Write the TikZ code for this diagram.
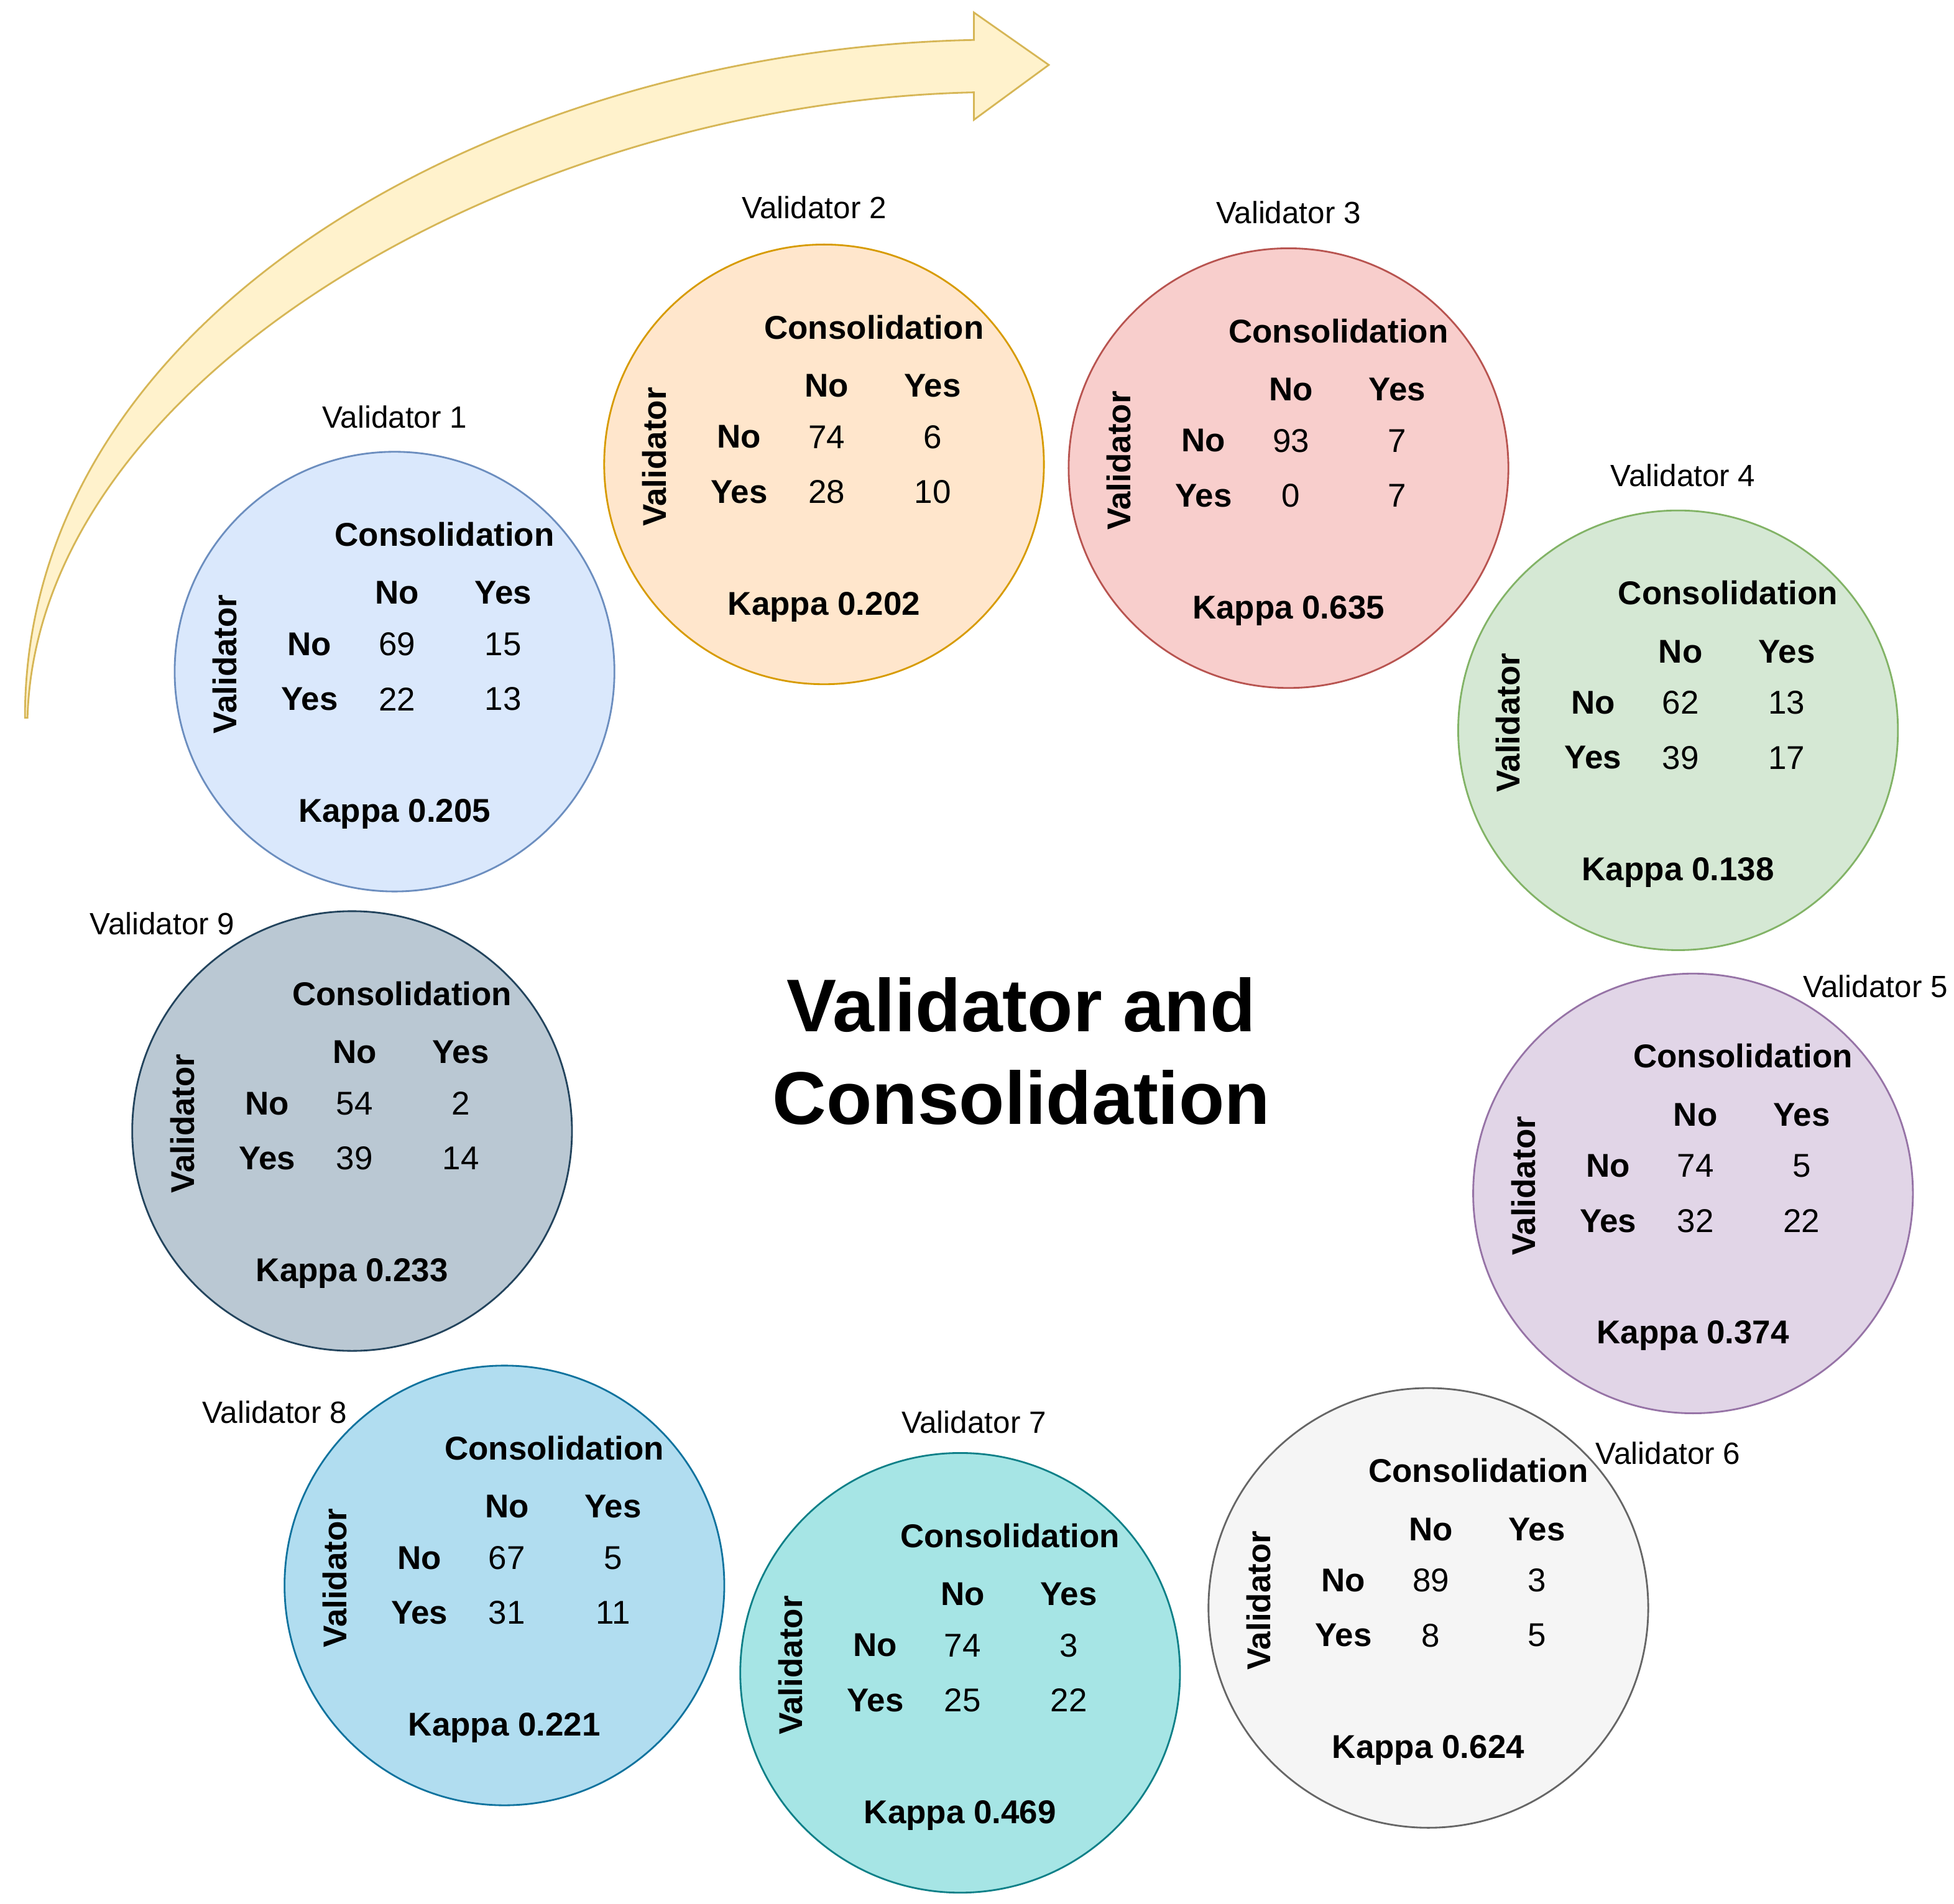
\documentclass[tikz,border=0pt]{standalone}
\usepackage{fontspec}
\setmainfont{Liberation Sans}
\usetikzlibrary{positioning}

\definecolor{f1}{HTML}{DAE8FC}\definecolor{d1}{HTML}{6C8EBF}
\definecolor{f2}{HTML}{FFE6CC}\definecolor{d2}{HTML}{D79B00}
\definecolor{f3}{HTML}{F8CECC}\definecolor{d3}{HTML}{B85450}
\definecolor{f4}{HTML}{D5E8D4}\definecolor{d4}{HTML}{82B366}
\definecolor{f5}{HTML}{E1D5E7}\definecolor{d5}{HTML}{9673A6}
\definecolor{f6}{HTML}{F5F5F5}\definecolor{d6}{HTML}{666666}
\definecolor{f7}{HTML}{A6E5E5}\definecolor{d7}{HTML}{0E8088}
\definecolor{f8}{HTML}{B1DDF0}\definecolor{d8}{HTML}{10739E}
\definecolor{f9}{HTML}{BAC8D3}\definecolor{d9}{HTML}{23445D}
\definecolor{arrowfill}{HTML}{FFF2CC}\definecolor{arrowdraw}{HTML}{D6B656}

\begin{document}
\begin{tikzpicture}[x=0.01cm,y=-0.01cm]
    \tikzset{
        matrixcircle/.style = {circle, minimum size=3.52cm, inner sep=0pt},
        head/.style = {font=\bfseries\fontsize{7.5}{9}\selectfont},
        cell/.style = {font=\fontsize{7.5}{9}\selectfont},
        caption/.style = {font=\fontsize{7}{8}\selectfont},
        title/.style = {font=\bfseries\fontsize{17}{21}\selectfont, align=center}
    }
    \useasboundingbox (0,0) rectangle (1565,1525);

    % big curved arrow
    \draw[arrowdraw, fill=arrowfill] (20,575) .. controls (20,250) and (400,40) .. (780,32)
        -- (780,10) -- (840,52) -- (780,96) -- (780,74)
        .. controls (420,82) and (30,300) .. (22,575) -- cycle;

    \node[title] (title) at (818,842) {Validator and\\Consolidation};

    \foreach \n/\x/\y/\lx/\ly/\a/\b/\c/\d/\k in {
        1/316/538/316/334/69/15/22/13/0.205,
        2/660/372/652/166/74/6/28/10/0.202,
        3/1032/375/1032/170/93/7/0/7/0.635,
        4/1344/585/1348/381/62/13/39/17/0.138,
        5/1356/956/1502/790/74/5/32/22/0.374,
        6/1144/1288/1336/1164/89/3/8/5/0.624,
        7/769/1340/780/1139/74/3/25/22/0.469,
        8/404/1270/220/1131/67/5/31/11/0.221,
        9/282/906/130/740/54/2/39/14/0.233}{
        \node[matrixcircle, draw=d\n, fill=f\n] (v\n) at (\x,\y) {};
        \node[caption] (v\n-lbl) at (\lx,\ly) {Validator \n};
        \begin{scope}[shift={(\x,\y)}]
            \node[head] (v\n-cons) at (40,-110) {Consolidation};
            \node[head] (v\n-cno) at (2,-63) {No};
            \node[head] (v\n-cyes) at (87,-63) {Yes};
            \node[head] (v\n-rno) at (-68,-22) {No};
            \node[head] (v\n-ryes) at (-68,22) {Yes};
            \node[cell] (v\n-a) at (2,-22) {\a};
            \node[cell] (v\n-b) at (87,-22) {\b};
            \node[cell] (v\n-c) at (2,22) {\c};
            \node[cell] (v\n-d) at (87,22) {\d};
            \node[head, rotate=90] (v\n-val) at (-136,-6) {Validator};
            \node[head] (v\n-kappa) at (0,114) {Kappa \k};
        \end{scope}
    }
\end{tikzpicture}
\end{document}
